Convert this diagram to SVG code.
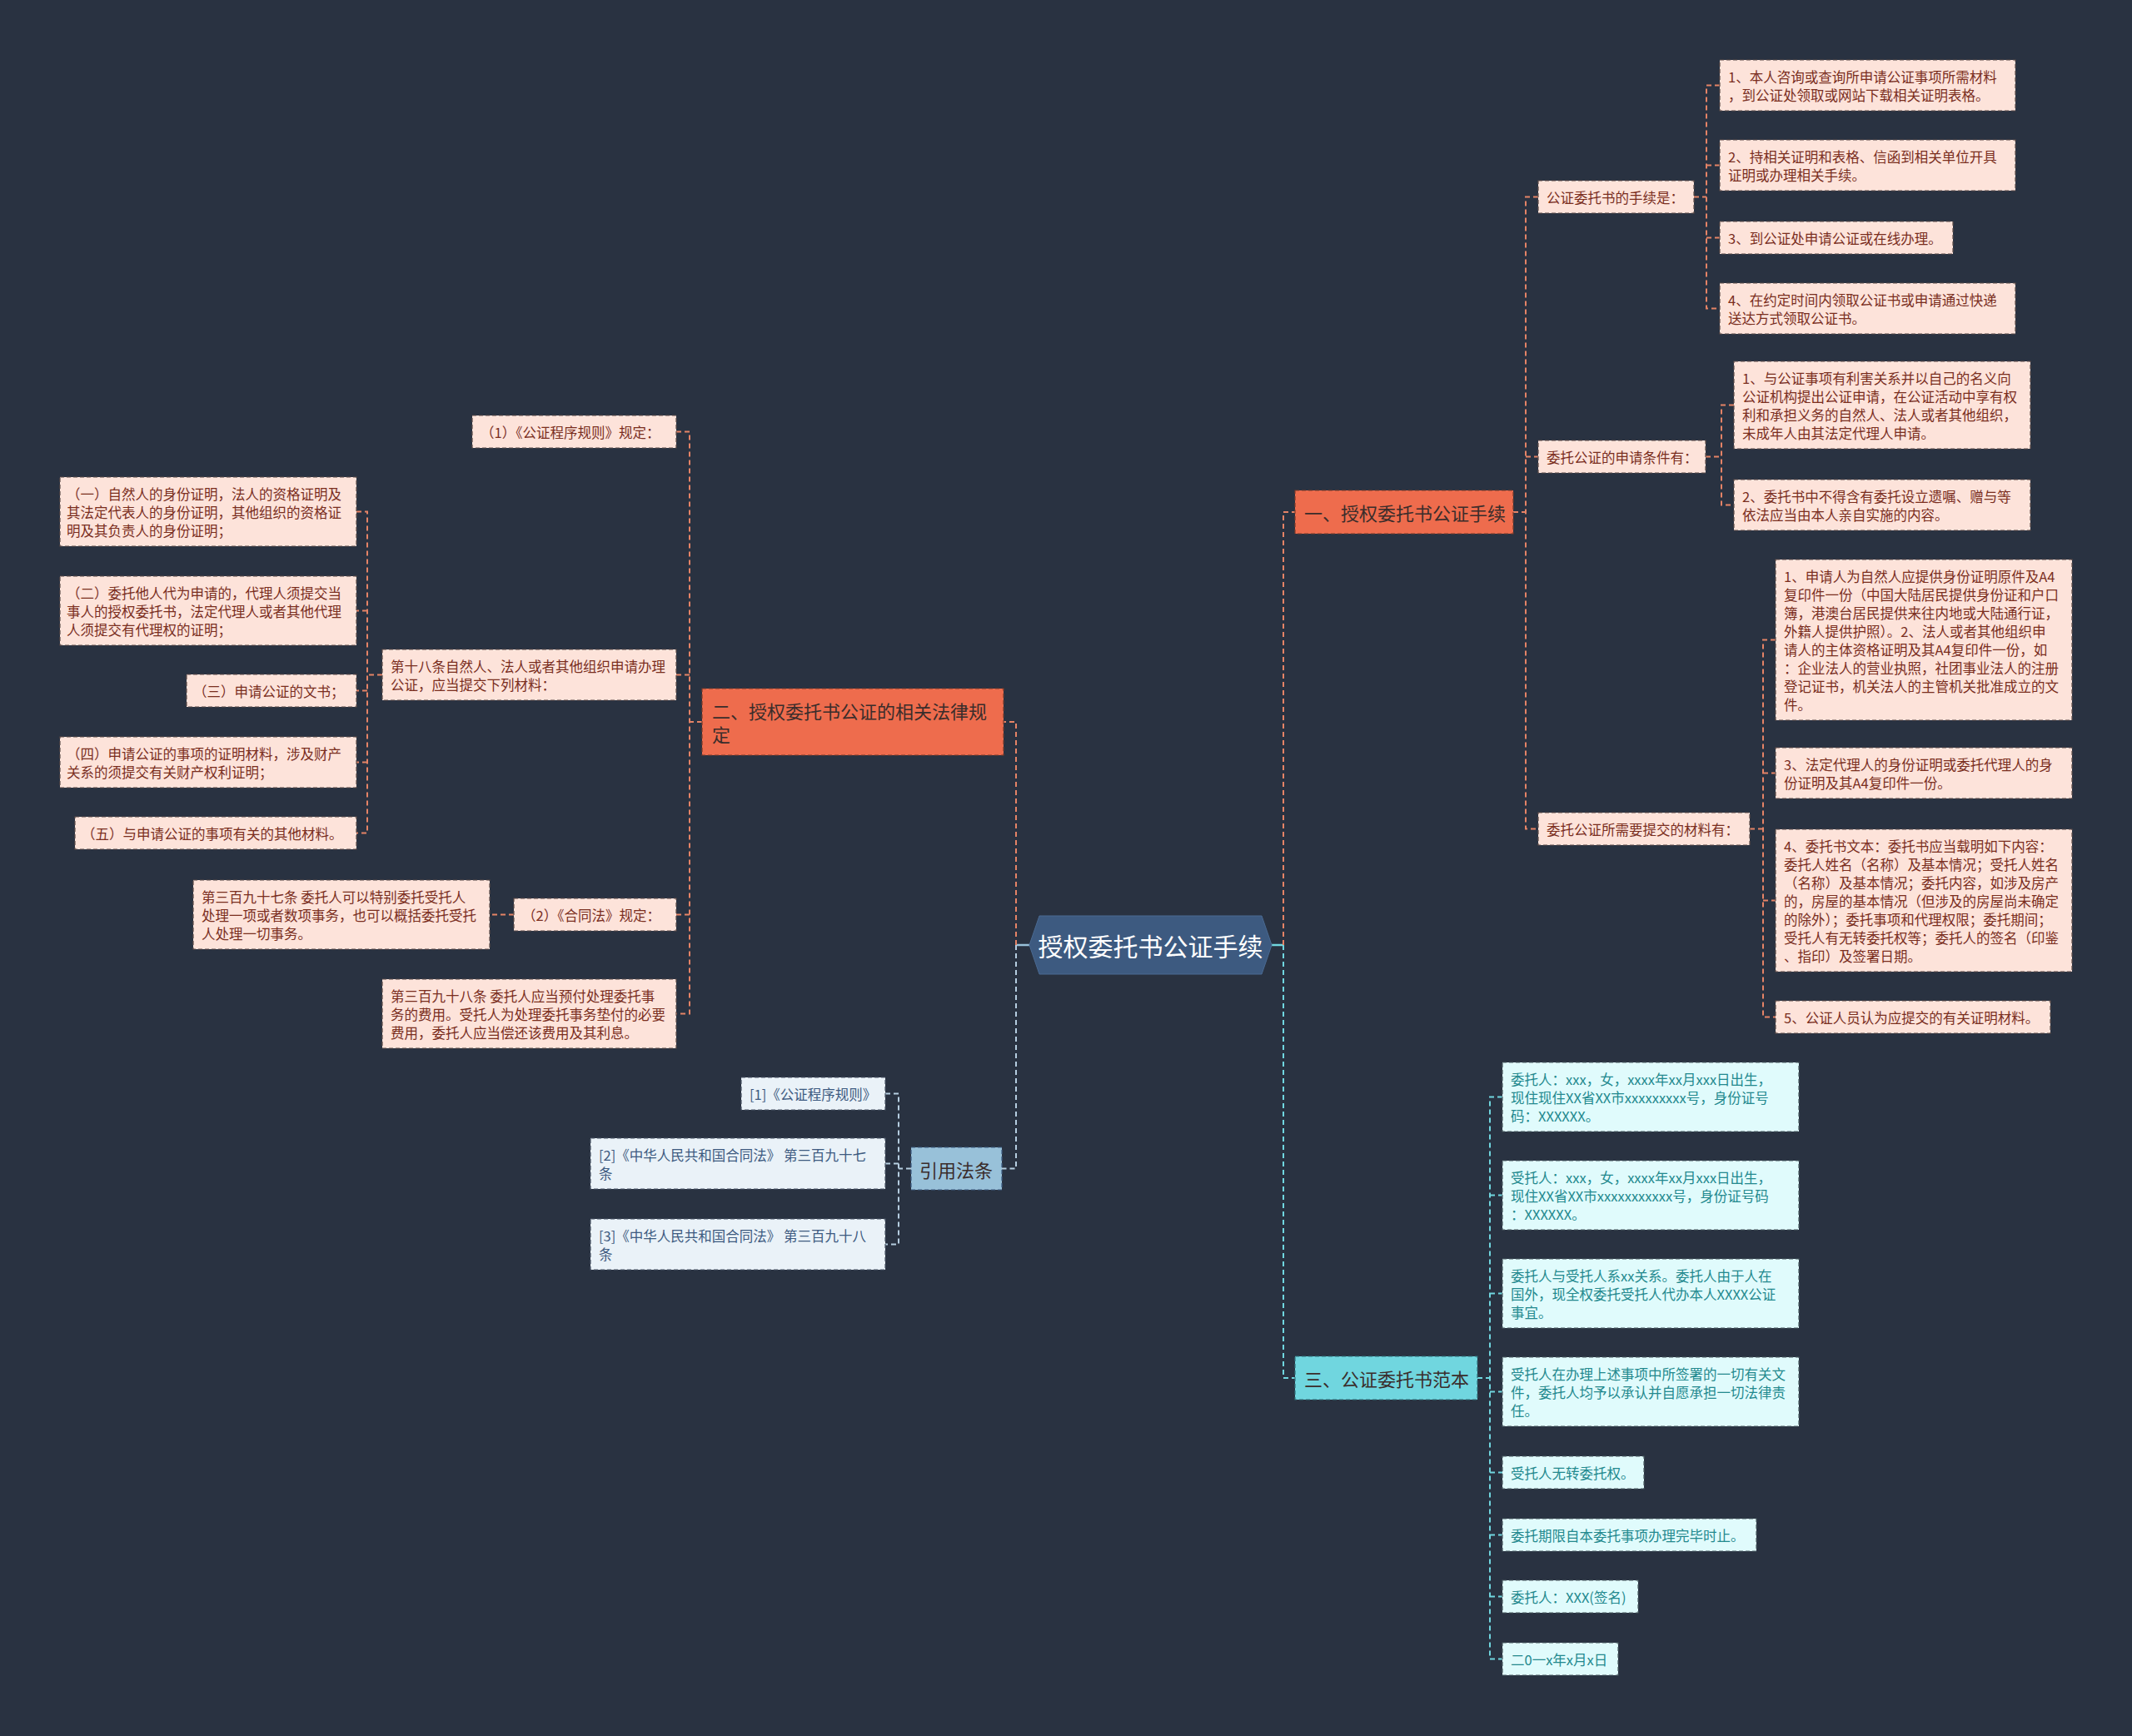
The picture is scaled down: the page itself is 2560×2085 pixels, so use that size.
<svg xmlns="http://www.w3.org/2000/svg" width="2560" height="2085" viewBox="0 0 2560 2085">
<style>
text{font-family:"Noto Sans CJK SC","Noto Sans",sans-serif;dominant-baseline:central}
.t16{font-size:16.5px}
.lo{fill:#fde3da;stroke:#5b4b48;stroke-width:1.2;stroke-dasharray:5 3}
.to{fill:#7a2e1e}
.lc{fill:#e0fbfc;stroke:#4a5a60;stroke-width:1.2;stroke-dasharray:5 3}
.tc{fill:#23898e}
.lb{fill:#eaf2f8;stroke:#4a5566;stroke-width:1.2;stroke-dasharray:5 3}
.tb{fill:#3d5a80}
.n1o{fill:#ee6c4d;stroke:#7a3b2b;stroke-width:1.2;stroke-dasharray:5 3}
.n1c{fill:#70d6df;stroke:#2f6f78;stroke-width:1.2;stroke-dasharray:5 3}
.n1b{fill:#98c1d9;stroke:#3d5a80;stroke-width:1.2;stroke-dasharray:5 3}
.t22{font-size:22px;fill:#3a2d2b}
.co{fill:none;stroke:#e58366;stroke-width:2;stroke-dasharray:6 4}
.cc{fill:none;stroke:#70d6df;stroke-width:2;stroke-dasharray:6 4}
.cb{fill:none;stroke:#b5cde0;stroke-width:2;stroke-dasharray:6 4}
</style>
<rect width="2560" height="2085" fill="#293241"/>
<g id="connectors">
<path d="M1236 1135H1220" stroke="#98c1d9" stroke-width="2.5" fill="none"/>
<path d="M1527 1135H1541" stroke="#70d6df" stroke-width="2.5" fill="none"/>
<path class="co" d="M1220 1135V867H1205"/>
<path class="cb" d="M1220 1135V1403.5H1203"/>
<path class="co" d="M1541 1135V615H1555"/>
<path class="cc" d="M1541 1135V1655H1555"/>
<path class="co" d="M1817 615H1832M1847 236.5H1832V995.5H1847M1832 548.5H1847"/>
<path class="co" d="M2034 236.5H2049M2065 102.5H2049V370.5H2065M2049 198.5H2065M2049 285.5H2065"/>
<path class="co" d="M2048 548.5H2067M2082 486.5H2067V606.5H2082"/>
<path class="co" d="M2101 995.5H2117M2132 768.5H2117V1221.5H2132M2117 928.5H2132M2117 1081.5H2132"/>
<path class="cc" d="M1774 1655H1789M1804 1317.5H1789V1992.5H1804M1789 1435.5H1804M1789 1553.5H1804M1789 1671.5H1804M1789 1768.5H1804M1789 1843.5H1804M1789 1917.5H1804"/>
<path class="co" d="M843 867H828M812 518.5H828V1217.5H812M828 810.5H812M828 1098.5H812"/>
<path class="co" d="M459 810.5H441M428 614.5H441V1000.5H428M441 733.5H428M441 829.5H428M441 915.5H428"/>
<path class="co" d="M617 1098.5H588"/>
<path class="cb" d="M1094 1403.5H1079M1063 1313.5H1079V1494.5H1063M1079 1397.5H1063"/>
</g>
<g id="root">
<polygon points="1236,1135 1248,1100 1515,1100 1527,1135 1515,1170 1248,1170" fill="#3d5a80" stroke="#4a6a92" stroke-width="1"/>
<text x="1381.5" y="1135" text-anchor="middle" font-size="30" fill="#ffffff">授权委托书公证手续</text>
</g>
<g id="n-yi">
<rect class="n1o" x="1555" y="589" width="262" height="52"/>
<text class="t22" x="1566" y="615">一、授权委托书公证手续</text>
</g>
<g id="n-shouxu">
<rect class="lo" x="1847" y="217" width="187" height="39"/>
<text class="t16 to" x="1857" y="236.5">公证委托书的手续是：</text>
</g>
<g id="n-shouxu-1">
<rect class="lo" x="2065" y="72" width="355" height="61"/>
<text class="t16 to"><tspan x="2075" y="91.5">1、本人咨询或查询所申请公证事项所需材料</tspan><tspan x="2075" y="113.5">，到公证处领取或网站下载相关证明表格。</tspan></text>
</g>
<g id="n-shouxu-2">
<rect class="lo" x="2065" y="168" width="355" height="61"/>
<text class="t16 to"><tspan x="2075" y="187.5">2、持相关证明和表格、信函到相关单位开具</tspan><tspan x="2075" y="209.5">证明或办理相关手续。</tspan></text>
</g>
<g id="n-shouxu-3">
<rect class="lo" x="2065" y="266" width="280" height="39"/>
<text class="t16 to" x="2075" y="285.5">3、到公证处申请公证或在线办理。</text>
</g>
<g id="n-shouxu-4">
<rect class="lo" x="2065" y="340" width="355" height="61"/>
<text class="t16 to"><tspan x="2075" y="359.5">4、在约定时间内领取公证书或申请通过快递</tspan><tspan x="2075" y="381.5">送达方式领取公证书。</tspan></text>
</g>
<g id="n-tiaojian">
<rect class="lo" x="1847" y="529" width="201" height="39"/>
<text class="t16 to" x="1857" y="548.5">委托公证的申请条件有：</text>
</g>
<g id="n-tiaojian-1">
<rect class="lo" x="2082" y="434" width="356" height="105"/>
<text class="t16 to"><tspan x="2092" y="453.5">1、与公证事项有利害关系并以自己的名义向</tspan><tspan x="2092" y="475.5">公证机构提出公证申请，在公证活动中享有权</tspan><tspan x="2092" y="497.5">利和承担义务的自然人、法人或者其他组织，</tspan><tspan x="2092" y="519.5">未成年人由其法定代理人申请。</tspan></text>
</g>
<g id="n-tiaojian-2">
<rect class="lo" x="2082" y="576" width="356" height="61"/>
<text class="t16 to"><tspan x="2092" y="595.5">2、委托书中不得含有委托设立遗嘱、赠与等</tspan><tspan x="2092" y="617.5">依法应当由本人亲自实施的内容。</tspan></text>
</g>
<g id="n-cailiao">
<rect class="lo" x="1847" y="976" width="254" height="39"/>
<text class="t16 to" x="1857" y="995.5">委托公证所需要提交的材料有：</text>
</g>
<g id="n-cailiao-1">
<rect class="lo" x="2132" y="672" width="356" height="193"/>
<text class="t16 to"><tspan x="2142" y="691.5">1、申请人为自然人应提供身份证明原件及A4</tspan><tspan x="2142" y="713.5">复印件一份（中国大陆居民提供身份证和户口</tspan><tspan x="2142" y="735.5">簿，港澳台居民提供来往内地或大陆通行证，</tspan><tspan x="2142" y="757.5">外籍人提供护照）。2、法人或者其他组织申</tspan><tspan x="2142" y="779.5">请人的主体资格证明及其A4复印件一份，如</tspan><tspan x="2142" y="801.5">：企业法人的营业执照，社团事业法人的注册</tspan><tspan x="2142" y="823.5">登记证书，机关法人的主管机关批准成立的文</tspan><tspan x="2142" y="845.5">件。</tspan></text>
</g>
<g id="n-cailiao-3">
<rect class="lo" x="2132" y="898" width="356" height="61"/>
<text class="t16 to"><tspan x="2142" y="917.5">3、法定代理人的身份证明或委托代理人的身</tspan><tspan x="2142" y="939.5">份证明及其A4复印件一份。</tspan></text>
</g>
<g id="n-cailiao-4">
<rect class="lo" x="2132" y="996" width="356" height="171"/>
<text class="t16 to"><tspan x="2142" y="1015.5">4、委托书文本：委托书应当载明如下内容：</tspan><tspan x="2142" y="1037.5">委托人姓名（名称）及基本情况；受托人姓名</tspan><tspan x="2142" y="1059.5">（名称）及基本情况；委托内容，如涉及房产</tspan><tspan x="2142" y="1081.5">的，房屋的基本情况（但涉及的房屋尚未确定</tspan><tspan x="2142" y="1103.5">的除外）；委托事项和代理权限；委托期间；</tspan><tspan x="2142" y="1125.5">受托人有无转委托权等；委托人的签名（印鉴</tspan><tspan x="2142" y="1147.5">、指印）及签署日期。</tspan></text>
</g>
<g id="n-cailiao-5">
<rect class="lo" x="2132" y="1202" width="330" height="39"/>
<text class="t16 to" x="2142" y="1221.5">5、公证人员认为应提交的有关证明材料。</text>
</g>
<g id="n-san">
<rect class="n1c" x="1555" y="1629" width="219" height="52"/>
<text class="t22" x="1566" y="1655" fill="#1f2f3a">三、公证委托书范本</text>
</g>
<g id="n-san-1">
<rect class="lc" x="1804" y="1276" width="356" height="83"/>
<text class="t16 tc"><tspan x="1814" y="1295.5">委托人：xxx，女，xxxx年xx月xxx日出生，</tspan><tspan x="1814" y="1317.5">现住现住XX省XX市xxxxxxxxx号，身份证号</tspan><tspan x="1814" y="1339.5">码：XXXXXX。</tspan></text>
</g>
<g id="n-san-2">
<rect class="lc" x="1804" y="1394" width="356" height="83"/>
<text class="t16 tc"><tspan x="1814" y="1413.5">受托人：xxx，女，xxxx年xx月xxx日出生，</tspan><tspan x="1814" y="1435.5">现住XX省XX市xxxxxxxxxxx号，身份证号码</tspan><tspan x="1814" y="1457.5">：XXXXXX。</tspan></text>
</g>
<g id="n-san-3">
<rect class="lc" x="1804" y="1512" width="356" height="83"/>
<text class="t16 tc"><tspan x="1814" y="1531.5">委托人与受托人系xx关系。委托人由于人在</tspan><tspan x="1814" y="1553.5">国外，现全权委托受托人代办本人XXXX公证</tspan><tspan x="1814" y="1575.5">事宜。</tspan></text>
</g>
<g id="n-san-4">
<rect class="lc" x="1804" y="1630" width="356" height="83"/>
<text class="t16 tc"><tspan x="1814" y="1649.5">受托人在办理上述事项中所签署的一切有关文</tspan><tspan x="1814" y="1671.5">件，委托人均予以承认并自愿承担一切法律责</tspan><tspan x="1814" y="1693.5">任。</tspan></text>
</g>
<g id="n-san-5">
<rect class="lc" x="1804" y="1749" width="170" height="39"/>
<text class="t16 tc" x="1814" y="1768.5">受托人无转委托权。</text>
</g>
<g id="n-san-6">
<rect class="lc" x="1804" y="1824" width="305" height="39"/>
<text class="t16 tc" x="1814" y="1843.5">委托期限自本委托事项办理完毕时止。</text>
</g>
<g id="n-san-7">
<rect class="lc" x="1804" y="1898" width="163" height="39"/>
<text class="t16 tc" x="1814" y="1917.5">委托人：XXX(签名)</text>
</g>
<g id="n-san-8">
<rect class="lc" x="1804" y="1973" width="139" height="39"/>
<text class="t16 tc" x="1814" y="1992.5">二0一x年x月x日</text>
</g>
<g id="n-er">
<rect class="n1o" x="843" y="827" width="362" height="80"/>
<text class="t22"><tspan x="855" y="853">二、授权委托书公证的相关法律规</tspan><tspan x="855" y="881">定</tspan></text>
</g>
<g id="n-er-1">
<rect class="lo" x="567" y="499" width="245" height="39"/>
<text class="t16 to" x="577" y="518.5">（1）《公证程序规则》规定：</text>
</g>
<g id="n-er-18">
<rect class="lo" x="459" y="780" width="353" height="61"/>
<text class="t16 to"><tspan x="469" y="799.5">第十八条自然人、法人或者其他组织申请办理</tspan><tspan x="469" y="821.5">公证，应当提交下列材料：</tspan></text>
</g>
<g id="n-er-18-1">
<rect class="lo" x="72" y="573" width="356" height="83"/>
<text class="t16 to"><tspan x="80" y="592.5">（一）自然人的身份证明，法人的资格证明及</tspan><tspan x="80" y="614.5">其法定代表人的身份证明，其他组织的资格证</tspan><tspan x="80" y="636.5">明及其负责人的身份证明；</tspan></text>
</g>
<g id="n-er-18-2">
<rect class="lo" x="72" y="692" width="356" height="83"/>
<text class="t16 to"><tspan x="80" y="711.5">（二）委托他人代为申请的，代理人须提交当</tspan><tspan x="80" y="733.5">事人的授权委托书，法定代理人或者其他代理</tspan><tspan x="80" y="755.5">人须提交有代理权的证明；</tspan></text>
</g>
<g id="n-er-18-3">
<rect class="lo" x="224" y="810" width="204" height="39"/>
<text class="t16 to" x="232" y="829.5">（三）申请公证的文书；</text>
</g>
<g id="n-er-18-4">
<rect class="lo" x="72" y="885" width="356" height="61"/>
<text class="t16 to"><tspan x="80" y="904.5">（四）申请公证的事项的证明材料，涉及财产</tspan><tspan x="80" y="926.5">关系的须提交有关财产权利证明；</tspan></text>
</g>
<g id="n-er-18-5">
<rect class="lo" x="90" y="981" width="338" height="39"/>
<text class="t16 to" x="98" y="1000.5">（五）与申请公证的事项有关的其他材料。</text>
</g>
<g id="n-er-2">
<rect class="lo" x="617" y="1079" width="195" height="39"/>
<text class="t16 to" x="627" y="1098.5">（2）《合同法》规定：</text>
</g>
<g id="n-er-397">
<rect class="lo" x="232" y="1057" width="356" height="83"/>
<text class="t16 to"><tspan x="242" y="1076.5">第三百九十七条 委托人可以特别委托受托人</tspan><tspan x="242" y="1098.5">处理一项或者数项事务，也可以概括委托受托</tspan><tspan x="242" y="1120.5">人处理一切事务。</tspan></text>
</g>
<g id="n-er-398">
<rect class="lo" x="459" y="1176" width="353" height="83"/>
<text class="t16 to"><tspan x="469" y="1195.5">第三百九十八条 委托人应当预付处理委托事</tspan><tspan x="469" y="1217.5">务的费用。受托人为处理委托事务垫付的必要</tspan><tspan x="469" y="1239.5">费用，委托人应当偿还该费用及其利息。</tspan></text>
</g>
<g id="n-yinyong">
<rect class="n1b" x="1094" y="1378" width="109" height="51"/>
<text class="t22" x="1104" y="1403.5" fill="#293241">引用法条</text>
</g>
<g id="n-yinyong-1">
<rect class="lb" x="890" y="1294" width="173" height="39"/>
<text class="t16 tb" x="900" y="1313.5">[1]《公证程序规则》</text>
</g>
<g id="n-yinyong-2">
<rect class="lb" x="709" y="1367" width="354" height="61"/>
<text class="t16 tb"><tspan x="719" y="1386.5">[2]《中华人民共和国合同法》 第三百九十七</tspan><tspan x="719" y="1408.5">条</tspan></text>
</g>
<g id="n-yinyong-3">
<rect class="lb" x="709" y="1464" width="354" height="61"/>
<text class="t16 tb"><tspan x="719" y="1483.5">[3]《中华人民共和国合同法》 第三百九十八</tspan><tspan x="719" y="1505.5">条</tspan></text>
</g>
</svg>
